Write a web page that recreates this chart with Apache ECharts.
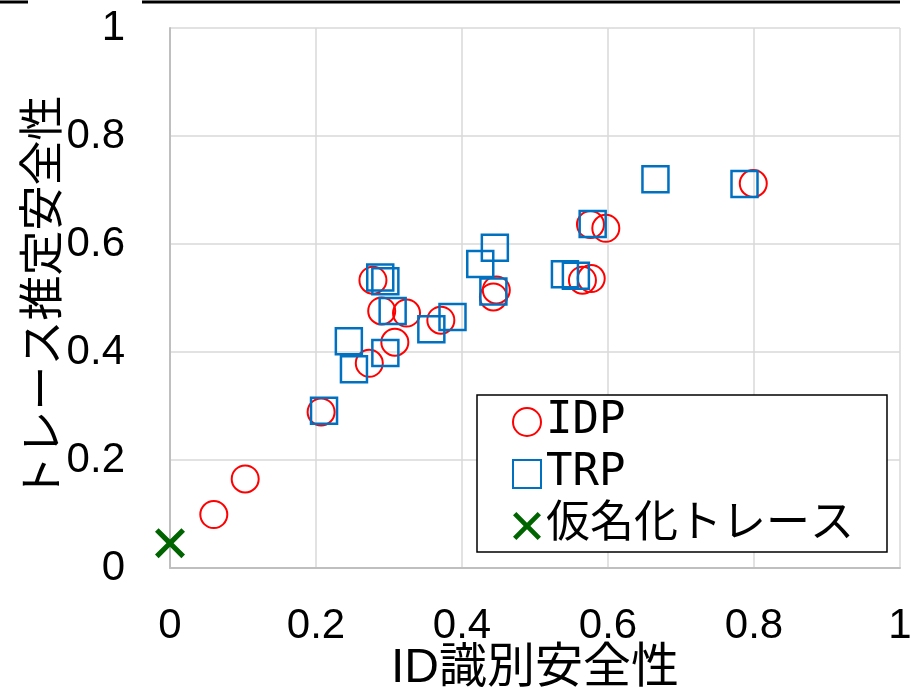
<!DOCTYPE html>
<html>
<head>
<meta charset="utf-8">
<script src="https://cdn.jsdelivr.net/npm/echarts@6/dist/echarts.min.js"></script>
<style>
html,body{margin:0;padding:0;background:#fff;overflow:hidden;}
#chart{width:917px;height:689px;}
</style>
</head>
<body>
<div id="chart"></div>
<script>
// ---- data ----
const seriesNames = ['IDP', 'TRP', '仮名化トレース'];
const xAxisTitle = 'ID識別安全性';
const yAxisTitle = 'トレース推定安全性';

const idpX = [0.278, 0.290, 0.324, 0.371, 0.308, 0.273, 0.207, 0.799, 0.576, 0.597, 0.447, 0.443, 0.565, 0.577, 0.103, 0.060];
const idpY = [0.533, 0.476, 0.472, 0.459, 0.418, 0.379, 0.289, 0.712, 0.636, 0.629, 0.515, 0.502, 0.533, 0.536, 0.165, 0.099];

const trpX = [0.288, 0.295, 0.305, 0.358, 0.387, 0.245, 0.295, 0.252, 0.211, 0.665, 0.787, 0.579, 0.445, 0.425, 0.443, 0.541, 0.556];
const trpY = [0.538, 0.531, 0.476, 0.442, 0.465, 0.420, 0.398, 0.368, 0.291, 0.720, 0.711, 0.637, 0.593, 0.563, 0.512, 0.544, 0.541];

const pseudoX = [0];
const pseudoY = [0.046];

const axisMin = 0, axisMax = 1, axisStep = 0.2;

function pairs(xs, ys) { return xs.map((x, i) => [x, ys[i]]); }

const numFont = '"Liberation Sans", Arial, sans-serif';
const jpFont = '"Noto Sans CJK JP", sans-serif';
const xPath = 'path://M0,1.2 L1.2,0 L5,3.8 L8.8,0 L10,1.2 L6.2,5 L10,8.8 L8.8,10 L5,6.2 L1.2,10 L0,8.8 L3.8,5 Z';

const chart = echarts.init(document.getElementById('chart'), null, {renderer: 'canvas', width: 917, height: 689});
chart.setOption({
  animation: false,
  backgroundColor: '#fff',
  grid: {left: 170, top: 28, width: 730, height: 540, containLabel: false, outerBoundsMode: 'none'},
  xAxis: {
    type: 'value', min: axisMin, max: axisMax, interval: axisStep,
    name: xAxisTitle, nameLocation: 'middle', nameGap: 77, nameMoveOverlap: false,
    nameTextStyle: {fontFamily: '"Liberation Sans", "Noto Sans CJK JP", sans-serif', fontSize: 48, color: '#000'},
    axisLine: {show: true, lineStyle: {color: '#bfbfbf', width: 2}},
    axisTick: {show: false},
    axisLabel: {fontFamily: numFont, fontSize: 42, color: '#000', margin: 37},
    splitLine: {show: true, lineStyle: {color: '#d9d9d9', width: 1.5}}
  },
  yAxis: {
    type: 'value', min: axisMin, max: axisMax, interval: axisStep,
    name: yAxisTitle, nameLocation: 'middle', nameGap: 107, nameRotate: 90, nameMoveOverlap: false,
    nameTextStyle: {fontFamily: jpFont, fontSize: 45, color: '#000'},
    axisLine: {show: true, lineStyle: {color: '#bfbfbf', width: 2}},
    axisTick: {show: false},
    axisLabel: {fontFamily: numFont, fontSize: 42, color: '#000', margin: 45},
    splitLine: {show: true, lineStyle: {color: '#d9d9d9', width: 1.5}}
  },
  legend: {
    orient: 'vertical', left: 477, top: 395,
    itemWidth: 28, itemHeight: 28, itemGap: 0,
    padding: [1, 33, 0, 35],
    borderColor: '#000', borderWidth: 1.5, backgroundColor: '#fff',
    textStyle: {fontFamily: '"DejaVu Sans Mono", "Noto Sans CJK JP", monospace', fontSize: 44, color: '#000', lineHeight: 52},
    data: seriesNames
  },
  graphic: [
    {type: 'line', shape: {x1: 0, y1: 2, x2: 28, y2: 2}, style: {stroke: '#000', lineWidth: 3}, silent: true},
    {type: 'line', shape: {x1: 142, y1: 2, x2: 900, y2: 2}, style: {stroke: '#000', lineWidth: 3}, silent: true}
  ],
  series: [
    {
      name: seriesNames[0], type: 'scatter', symbol: 'circle', symbolSize: 27,
      itemStyle: {color: 'rgba(255,255,255,0)', borderColor: '#ff0000', borderWidth: 2, opacity: 1},
      data: pairs(idpX, idpY), z: 3
    },
    {
      name: seriesNames[1], type: 'scatter', symbol: 'rect', symbolSize: 26,
      itemStyle: {color: 'rgba(255,255,255,0)', borderColor: '#0070c0', borderWidth: 2.5, opacity: 1},
      data: pairs(trpX, trpY), z: 4
    },
    {
      name: seriesNames[2], type: 'scatter', symbol: xPath, symbolSize: 30,
      itemStyle: {color: '#006400', opacity: 1},
      data: pairs(pseudoX, pseudoY), z: 5
    }
  ]
});
</script>
</body>
</html>
